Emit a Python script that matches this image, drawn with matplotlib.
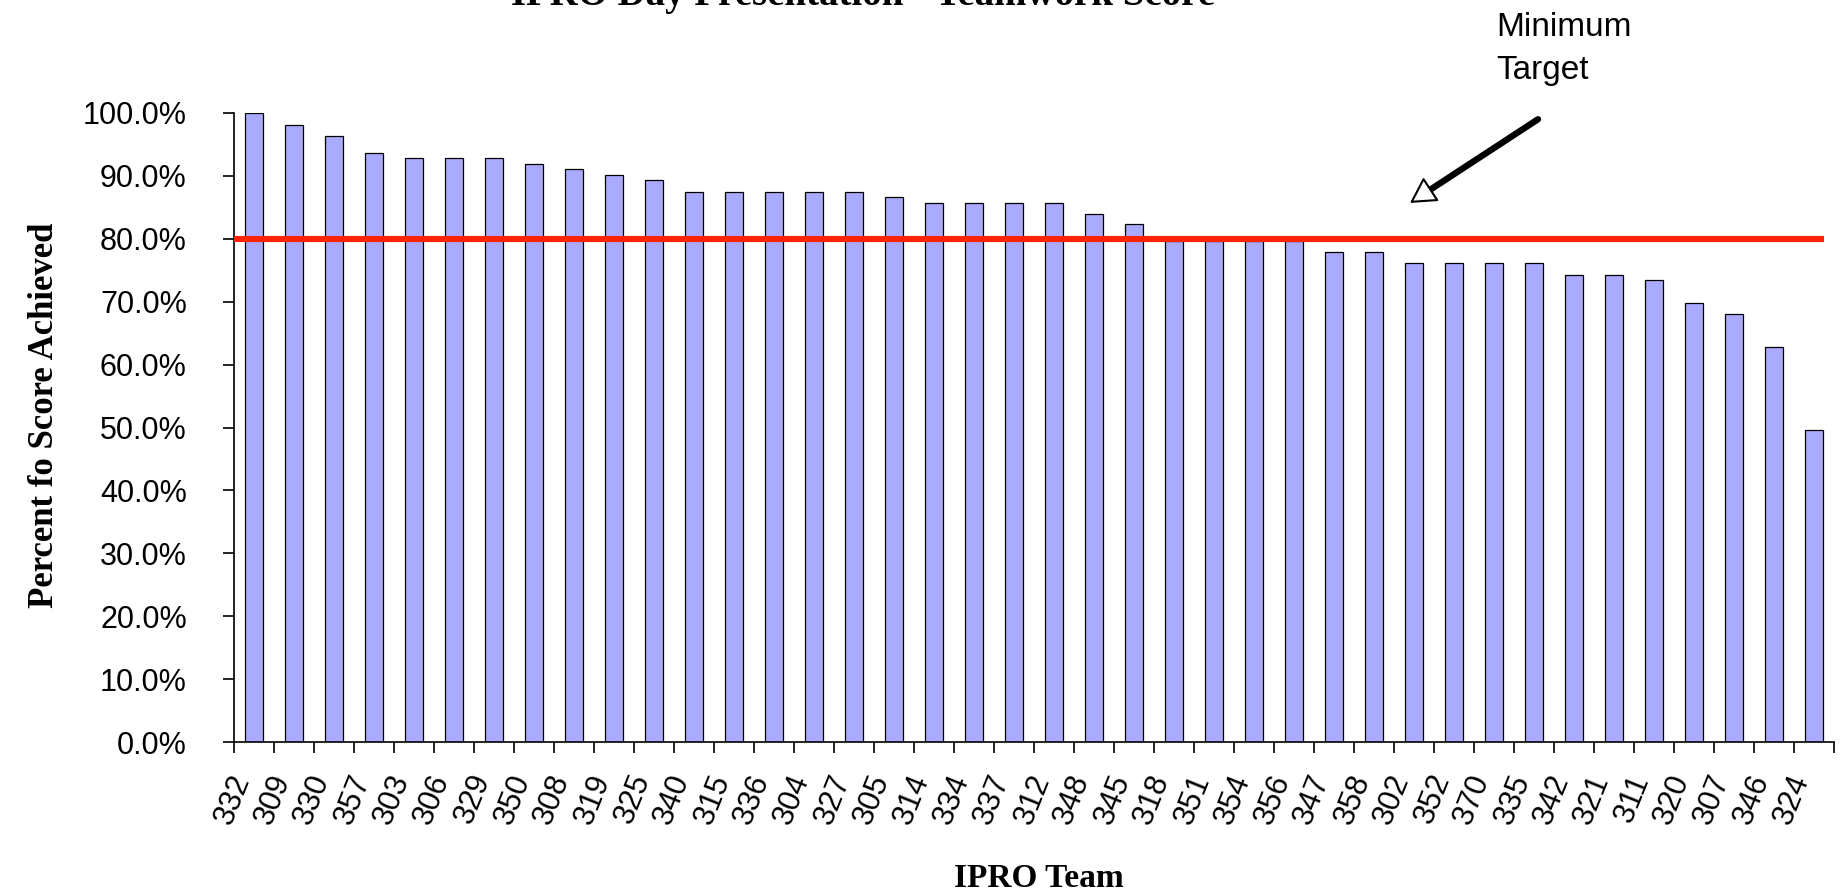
import matplotlib
matplotlib.use("Agg")
import matplotlib.pyplot as plt
from matplotlib.ticker import FuncFormatter, FixedLocator
from matplotlib.transforms import ScaledTranslation
import numpy as np

# teams, sorted by score
teams = ["332", "309", "330", "357", "303", "306", "329", "350", "308", "319",
         "325", "340", "315", "336", "304", "327", "305", "314", "334", "337",
         "312", "348", "345", "318", "351", "354", "356", "347", "358", "302",
         "352", "370", "335", "342", "321", "311", "320", "307", "346", "324"]
scores = [100.0, 98.1, 96.4, 93.7, 92.9, 92.9, 92.9, 91.9, 91.1, 90.2,
          89.3, 87.5, 87.5, 87.5, 87.5, 87.5, 86.7, 85.7, 85.7, 85.7,
          85.7, 84.0, 82.3, 79.6, 79.6, 79.6, 79.6, 77.9, 77.9, 76.1,
          76.1, 76.1, 76.1, 74.3, 74.3, 73.4, 69.8, 68.1, 62.8, 49.6]
target = 80.0
yticks = [0, 10, 20, 30, 40, 50, 60, 70, 80, 90, 100]

serif = "Liberation Serif"
sans = "Liberation Sans"

fig = plt.figure(figsize=(18.43, 8.91), dpi=100)
ax = fig.add_axes([0.127, 0.1672, 0.8681, 0.706])

x = np.arange(len(teams))
vals = np.array(scores) / 100
ax.bar(x, vals, width=0.43, color="#AAAAFF", edgecolor="black", linewidth=0.9, zorder=2)

# minimum target line
ax.plot([-0.5, len(teams) - 0.75], [target / 100, target / 100], color="#FF2200",
        linewidth=4.4, zorder=3, solid_capstyle="butt")

ax.set_xlim(-0.5, len(teams) - 0.5)
ax.set_ylim(0, 1.0)

# y axis
ax.set_yticks([t / 100 for t in yticks])
ax.yaxis.set_major_formatter(FuncFormatter(lambda v, p: f"{v * 100:.1f}%"))
ax.tick_params(axis="y", direction="out", length=8, width=1.2, pad=26,
               labelsize=22)
for lab in ax.get_yticklabels():
    lab.set_family(sans)

# x axis: ticks at category boundaries, labels at centers
ax.xaxis.set_major_locator(FixedLocator(np.arange(len(teams) + 1) - 0.5))
ax.xaxis.set_minor_locator(FixedLocator(x))
ax.set_xticklabels([], minor=False)
ax.set_xticklabels(teams, minor=True, rotation=68, ha="right", va="center",
                   rotation_mode="anchor", fontsize=22, family=sans)
ax.tick_params(axis="x", which="major", direction="out", length=8, width=1.2)
ax.tick_params(axis="x", which="minor", length=0, pad=24)
shift = ScaledTranslation(-12 / 100, 0, fig.dpi_scale_trans)
for lab in ax.get_xticklabels(minor=True):
    lab.set_transform(lab.get_transform() + shift)

for s in ["top", "right"]:
    ax.spines[s].set_visible(False)
for s in ["left", "bottom"]:
    ax.spines[s].set_linewidth(1.2)

ax.set_ylabel("Percent fo Score Achieved", family=serif, fontweight="bold", fontsize=25)
ax.yaxis.set_label_coords(-0.108, 0.52)
ax.set_xlabel("IPRO Team", family=serif, fontweight="bold", fontsize=24, va="baseline")
ax.xaxis.set_label_coords(0.503, -0.2305)

fig.text(0.468, 1 - 5 / 891, "IPRO Day Presentation - Teamwork Score",
         family=serif, fontweight="bold", fontsize=28, ha="center", va="baseline")

# annotation for the target line
fig.text(0.812, 0.9865, "Minimum\nTarget", family=sans, fontsize=24,
         linespacing=1.5, ha="left", va="top")
tip = (28.9, 0.857)
tail = (32.1, 0.99)
ax.annotate("", xy=tip, xytext=tail, annotation_clip=False,
            arrowprops=dict(arrowstyle="-", lw=4.6, color="black",
                            shrinkA=0, shrinkB=10))
ax.annotate("", xy=tip, xytext=tail, annotation_clip=False,
            arrowprops=dict(arrowstyle="-|>,head_length=0.8,head_width=0.45",
                            mutation_scale=20, lw=1.5, edgecolor="black",
                            facecolor="white", shrinkA=0, shrinkB=0))

fig.savefig("out.png", dpi=100)
